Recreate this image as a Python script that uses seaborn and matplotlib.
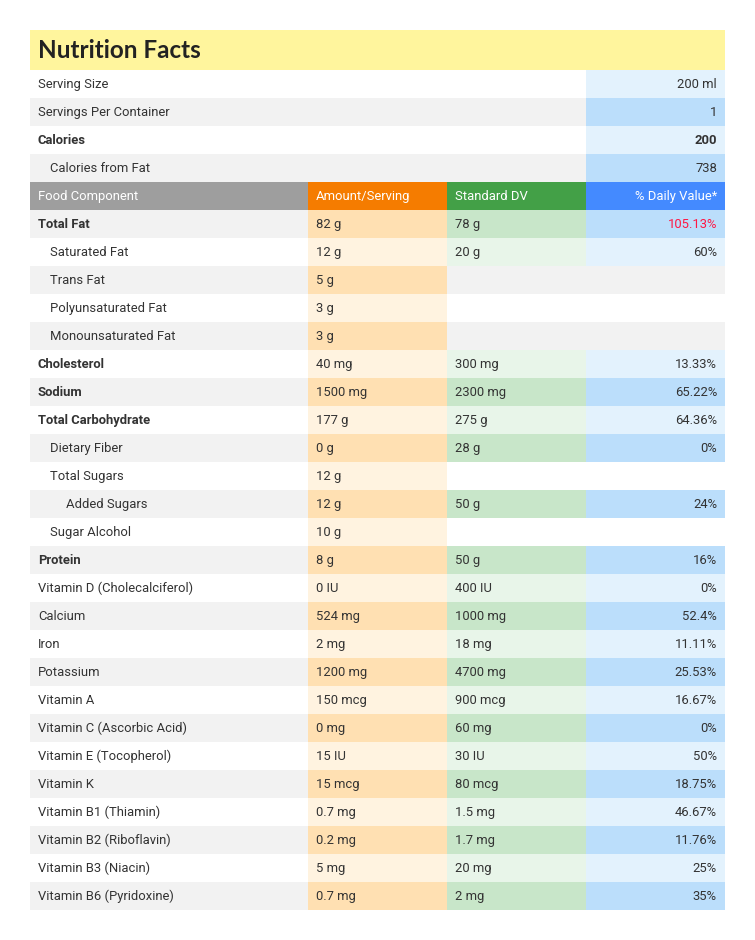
import matplotlib
matplotlib.use("Agg")
import matplotlib.pyplot as plt
import seaborn as sns
import pandas as pd

# ---------------- data ----------------
title = "Nutrition Facts"

top_labels = ["Serving Size", "Servings Per Container", "Calories", "Calories from Fat"]
top_values = ["200 ml", "1", "200", "738"]
top_bold = [False, False, True, False]
top_indent = [0, 0, 0, 1]

headers = ["Food Component", "Amount/Serving", "Standard DV", "% Daily Value*"]

components = ["Total Fat", "Saturated Fat", "Trans Fat", "Polyunsaturated Fat",
              "Monounsaturated Fat", "Cholesterol", "Sodium", "Total Carbohydrate",
              "Dietary Fiber", "Total Sugars", "Added Sugars", "Sugar Alcohol",
              "Protein", "Vitamin D (Cholecalciferol)", "Calcium", "Iron", "Potassium",
              "Vitamin A", "Vitamin C (Ascorbic Acid)", "Vitamin E (Tocopherol)",
              "Vitamin K", "Vitamin B1 (Thiamin)", "Vitamin B2 (Riboflavin)",
              "Vitamin B3 (Niacin)", "Vitamin B6 (Pyridoxine)"]
indent = [0, 1, 1, 1, 1, 0, 0, 0, 1, 1, 2, 1, 0, 0, 0, 0, 0, 0, 0, 0, 0, 0, 0, 0, 0]
bold = [True, False, False, False, False, True, True, True, False, False, False, False,
        True, False, False, False, False, False, False, False, False, False, False, False, False]
amounts = ["82 g", "12 g", "5 g", "3 g", "3 g", "40 mg", "1500 mg", "177 g", "0 g", "12 g",
           "12 g", "10 g", "8 g", "0 IU", "524 mg", "2 mg", "1200 mg", "150 mcg", "0 mg",
           "15 IU", "15 mcg", "0.7 mg", "0.2 mg", "5 mg", "0.7 mg"]
standard_dv = ["78 g", "20 g", None, None, None, "300 mg", "2300 mg", "275 g", "28 g", None,
               "50 g", None, "50 g", "400 IU", "1000 mg", "18 mg", "4700 mg", "900 mcg",
               "60 mg", "30 IU", "80 mcg", "1.5 mg", "1.7 mg", "20 mg", "2 mg"]
daily_value = ["105.13%", "60%", None, None, None, "13.33%", "65.22%", "64.36%", "0%", None,
               "24%", None, "16%", "0%", "52.4%", "11.11%", "25.53%", "16.67%", "0%", "50%",
               "18.75%", "46.67%", "11.76%", "25%", "35%"]

# ---------------- style ----------------
sns.set_theme(style="white")
plt.rcParams["font.family"] = ["Roboto", "DejaVu Sans"]

TEXT = "#333333"
ROW_BG = ["#FFFFFF", "#F2F2F2"]
AMT_BG = ["#FFF3E0", "#FFE0B2"]
SDV_BG = ["#E8F5E9", "#C8E6C9"]
PDV_BG = ["#E3F2FD", "#BBDEFB"]
HEAD_BG = ["#9E9E9E", "#F57C00", "#43A047", "#448AFF"]
TITLE_BG = "#FFF59D"
RED = "#FF1744"

W, H = 755, 940
X0, X1, Y0, Y1 = 30, 725, 30, 910
TITLE_H = 40
ROW_H = 28
BASE = 18.3
col_edges = [0, 278, 417, 556, 695]
FS = 9.4

fig = plt.figure(figsize=(W / 100, H / 100), dpi=100)
ax = fig.add_axes([X0 / W, (H - Y1) / H, (X1 - X0) / W, (Y1 - Y0) / H])
ax.set_xlim(0, X1 - X0)
ax.set_ylim(Y1 - Y0, 0)
ax.axis("off")


def cell(col, row, color):
    top = TITLE_H + row * ROW_H
    ax.barh(top + ROW_H / 2, col_edges[col + 1] - col_edges[col], left=col_edges[col],
            height=ROW_H, color=color, linewidth=0)
    return top + BASE


def row_band(row, color):
    top = TITLE_H + row * ROW_H
    ax.barh(top + ROW_H / 2, col_edges[-1], left=0, height=ROW_H, color=color, linewidth=0)
    return top + BASE


def label(x, y, s, ha="left", weight="normal", color=TEXT):
    ax.text(x, y, s, ha=ha, va="baseline", fontsize=FS, color=color, fontweight=weight)


# title band
ax.barh(TITLE_H / 2, col_edges[-1], left=0, height=TITLE_H, color=TITLE_BG, linewidth=0)
ax.text(8, 28, title, ha="left", va="baseline", fontsize=17.5,
        fontweight="bold", color="#222222", family=["Lato", "DejaVu Sans"])

# top rows
for i, (lab, val, b, ind) in enumerate(zip(top_labels, top_values, top_bold, top_indent)):
    par = i % 2
    yb = row_band(i, ROW_BG[par])
    cell(3, i, PDV_BG[par])
    w = "bold" if b else "normal"
    label(8 + 12 * ind, yb, lab, weight=w)
    label(col_edges[4] - 8, yb, val, ha="right", weight=w)

# header row
hr = len(top_labels)
for c, h in enumerate(headers):
    yb = cell(c, hr, HEAD_BG[c])
    if c == 3:
        label(col_edges[4] - 8, yb, h, ha="right", color="white")
    else:
        label(col_edges[c] + 8, yb, h, color="white")

# body
df = pd.DataFrame({"component": components, "indent": indent, "bold": bold,
                   "amount": amounts, "sdv": standard_dv, "pdv": daily_value})
for k, r in df.iterrows():
    row = hr + 1 + k
    par = row % 2
    yb = row_band(row, ROW_BG[par])
    cell(1, row, AMT_BG[par])
    w = "bold" if r["bold"] else "normal"
    label(8 + 12 * r["indent"] + (4 if r["indent"] == 2 else 0), yb, r["component"], weight=w)
    label(col_edges[1] + 8, yb, r["amount"])
    if r["sdv"] is not None:
        cell(2, row, SDV_BG[par])
        label(col_edges[2] + 8, yb, r["sdv"])
    if r["pdv"] is not None:
        cell(3, row, PDV_BG[par])
        val = float(r["pdv"].rstrip("%"))
        label(col_edges[4] - 8, yb, r["pdv"], ha="right", color=RED if val > 100 else TEXT)

fig.savefig("out.png", dpi=100, facecolor="white")
